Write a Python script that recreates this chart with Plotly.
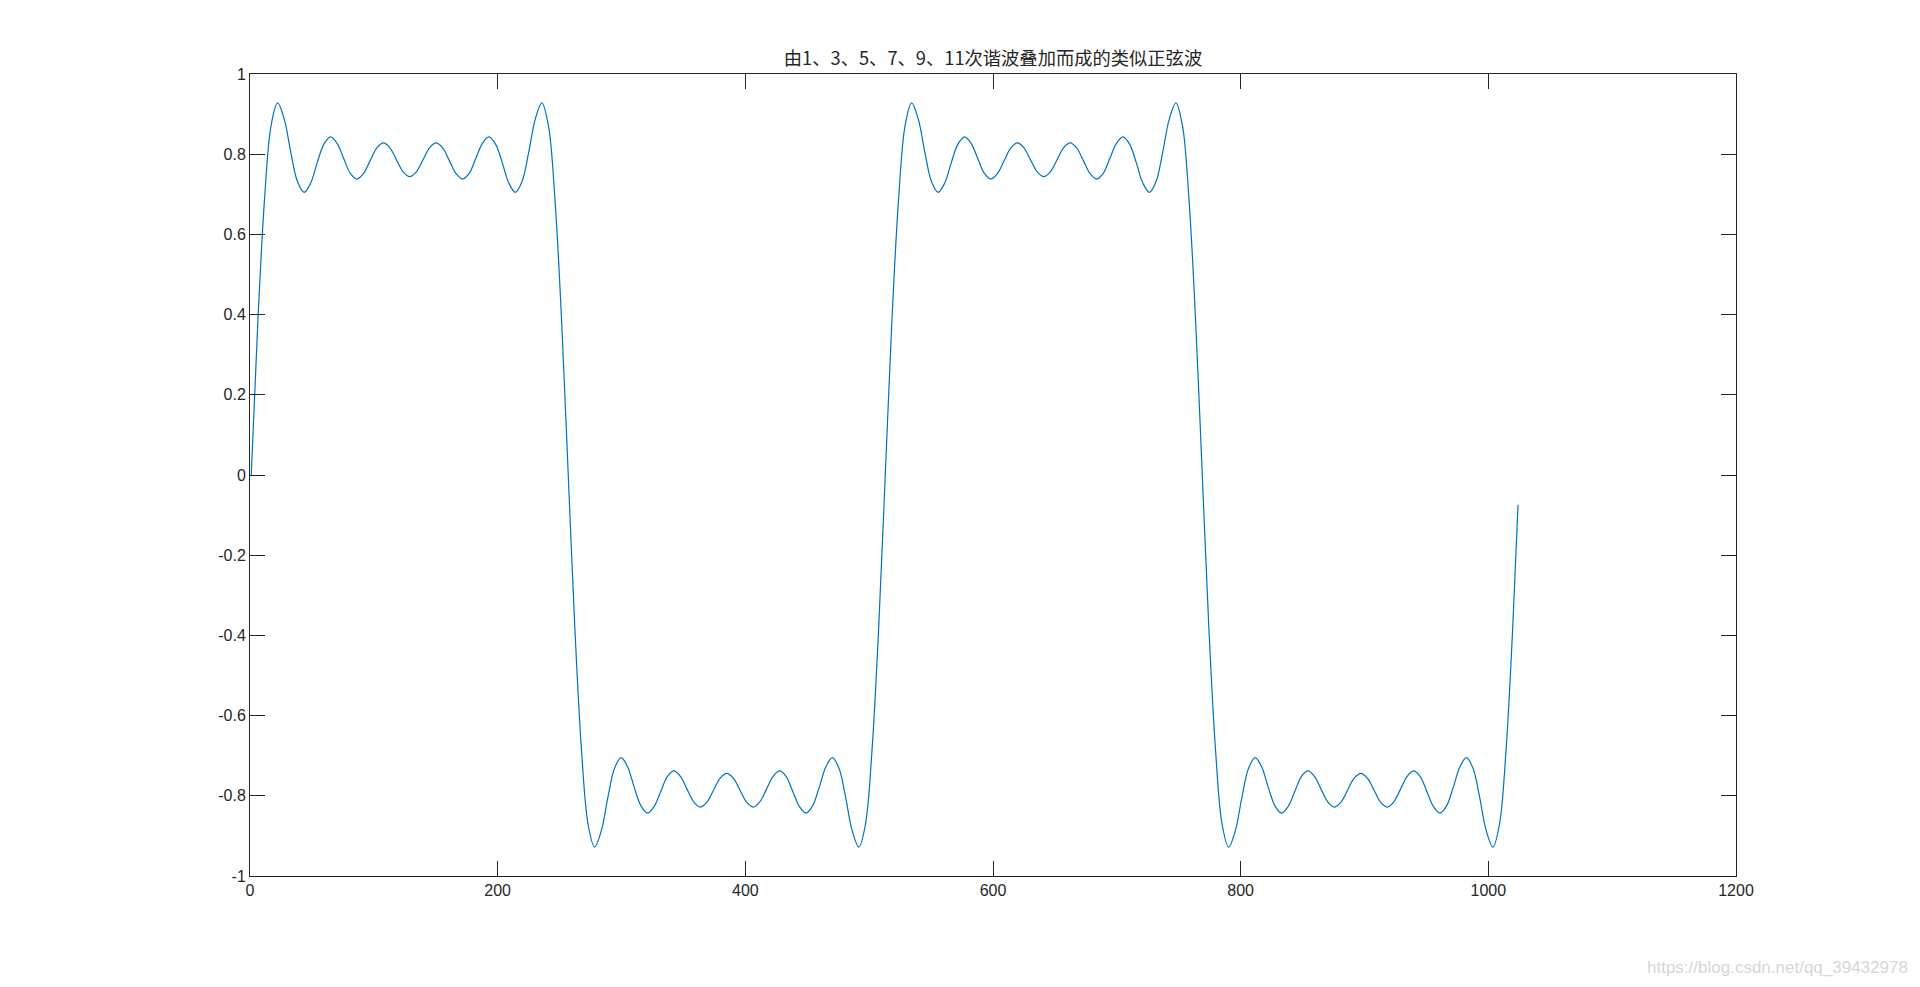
import plotly.graph_objects as go

# sample index (MATLAB plot(y) -> x = 1..1024) and values
x_half0 = [1, 6.3, 11.7, 17, 22.3, 27.7, 33, 38.3, 43.7, 49, 54.3, 59.7, 65, 70.3, 75.7, 81,
           86.3, 91.7, 97, 102.3, 107.7, 113, 118.3, 123.7, 129, 134.3, 139.7, 145, 150.3, 155.7,
           161, 166.3, 171.7, 177, 182.3, 187.7, 193, 198.3, 203.7, 209, 214.3, 219.7, 225, 230.3,
           235.7, 241, 246.3, 251.7]
x_half1 = [257, 262.3, 267.7, 273, 278.3, 283.7, 289, 294.3, 299.7, 305, 310.3, 315.7, 321, 326.3,
           331.7, 337, 342.3, 347.7, 353, 358.3, 363.7, 369, 374.3, 379.7, 385, 390.3, 395.7, 401,
           406.3, 411.7, 417, 422.3, 427.7, 433, 438.3, 443.7, 449, 454.3, 459.7, 465, 470.3, 475.7,
           481, 486.3, 491.7, 497, 502.3, 507.7]
x_half2 = [513, 518.3, 523.7, 529, 534.3, 539.7, 545, 550.3, 555.7, 561, 566.3, 571.7, 577, 582.3,
           587.7, 593, 598.3, 603.7, 609, 614.3, 619.7, 625, 630.3, 635.7, 641, 646.3, 651.7, 657,
           662.3, 667.7, 673, 678.3, 683.7, 689, 694.3, 699.7, 705, 710.3, 715.7, 721, 726.3, 731.7,
           737, 742.3, 747.7, 753, 758.3, 763.7]
x_half3 = [769, 774.3, 779.7, 785, 790.3, 795.7, 801, 806.3, 811.7, 817, 822.3, 827.7, 833, 838.3,
           843.7, 849, 854.3, 859.7, 865, 870.3, 875.7, 881, 886.3, 891.7, 897, 902.3, 907.7, 913,
           918.3, 923.7, 929, 934.3, 939.7, 945, 950.3, 955.7, 961, 966.3, 971.7, 977, 982.3, 987.7,
           993, 998.3, 1003.7, 1009, 1014.3, 1019.7]
x_end = [1024]

y_half0 = [0, 0.380, 0.686, 0.871, 0.928, 0.887, 0.804, 0.732, 0.705, 0.728, 0.779, 0.825,
           0.843, 0.827, 0.789, 0.752, 0.738, 0.752, 0.784, 0.815, 0.828, 0.816, 0.786, 0.756,
           0.744, 0.756, 0.786, 0.816, 0.828, 0.815, 0.784, 0.752, 0.738, 0.752, 0.789, 0.827,
           0.843, 0.825, 0.779, 0.728, 0.705, 0.732, 0.804, 0.887, 0.928, 0.871, 0.686, 0.380]
y_half1 = [0, -0.380, -0.686, -0.871, -0.928, -0.887, -0.804, -0.732, -0.705, -0.728, -0.779, -0.825,
           -0.843, -0.827, -0.789, -0.752, -0.738, -0.752, -0.784, -0.815, -0.828, -0.816, -0.786, -0.756,
           -0.744, -0.756, -0.786, -0.816, -0.828, -0.815, -0.784, -0.752, -0.738, -0.752, -0.789, -0.827,
           -0.843, -0.825, -0.779, -0.728, -0.705, -0.732, -0.804, -0.887, -0.928, -0.871, -0.686, -0.380]
y_half2 = [0, 0.380, 0.686, 0.871, 0.928, 0.887, 0.804, 0.732, 0.705, 0.728, 0.779, 0.825,
           0.843, 0.827, 0.789, 0.752, 0.738, 0.752, 0.784, 0.815, 0.828, 0.816, 0.786, 0.756,
           0.744, 0.756, 0.786, 0.816, 0.828, 0.815, 0.784, 0.752, 0.738, 0.752, 0.789, 0.827,
           0.843, 0.825, 0.779, 0.728, 0.705, 0.732, 0.804, 0.887, 0.928, 0.871, 0.686, 0.380]
y_half3 = [0, -0.380, -0.686, -0.871, -0.928, -0.887, -0.804, -0.732, -0.705, -0.728, -0.779, -0.825,
           -0.843, -0.827, -0.789, -0.752, -0.738, -0.752, -0.784, -0.815, -0.828, -0.816, -0.786, -0.756,
           -0.744, -0.756, -0.786, -0.816, -0.828, -0.815, -0.784, -0.752, -0.738, -0.752, -0.789, -0.827,
           -0.843, -0.825, -0.779, -0.728, -0.705, -0.732, -0.804, -0.887, -0.928, -0.871, -0.686, -0.380]
y_end = [-0.074]

x_vals = x_half0 + x_half1 + x_half2 + x_half3 + x_end
y_vals = y_half0 + y_half1 + y_half2 + y_half3 + y_end

title = "由1、3、5、7、9、11次谐波叠加而成的类似正弦波"
x_ticks = [0, 200, 400, 600, 800, 1000, 1200]
y_ticks = [-1, -0.8, -0.6, -0.4, -0.2, 0, 0.2, 0.4, 0.6, 0.8, 1]
y_ticktext = ["-1", "-0.8", "-0.6", "-0.4", "-0.2", "0", "0.2", "0.4", "0.6", "0.8", "1"]

fig = go.Figure()
fig.add_trace(
    go.Scatter(
        x=x_vals,
        y=y_vals,
        mode='lines',
        line=dict(color='#0072BD', width=1.2, shape='spline', smoothing=1.0),
        showlegend=False,
    )
)

axis_style = dict(
    showline=True,
    linecolor='#262626',
    linewidth=1,
    mirror='ticks',
    ticks='inside',
    ticklen=15,
    tickcolor='#262626',
    tickwidth=1,
    showgrid=False,
    zeroline=False,
    tickfont=dict(family='Liberation Sans, Arial', size=16, color='#262626'),
)

fig.update_layout(
    width=1920,
    height=987,
    paper_bgcolor='white',
    plot_bgcolor='white',
    margin=dict(l=242, r=192, t=66, b=119),
    title=dict(
        text=title,
        xref='paper',
        x=0.5,
        xanchor='center',
        y=1 - 51 / 987,
        yanchor='middle',
        font=dict(family='Noto Sans CJK SC, Liberation Sans', size=18.3, color='#262626'),
    ),
    xaxis=dict(range=[0, 1200], tickvals=x_ticks, **axis_style),
    yaxis=dict(range=[-1, 1], tickvals=y_ticks, ticktext=y_ticktext, **axis_style),
    annotations=[
        dict(
            text="https://blog.csdn.net/qq_39432978",
            xref='paper', yref='paper',
            x=1.117, y=-0.1147,
            xanchor='right', yanchor='middle',
            showarrow=False,
            font=dict(family='Liberation Sans, Arial', size=17, color='#d6d6d6'),
        )
    ],
)

fig.write_html("out.html")
